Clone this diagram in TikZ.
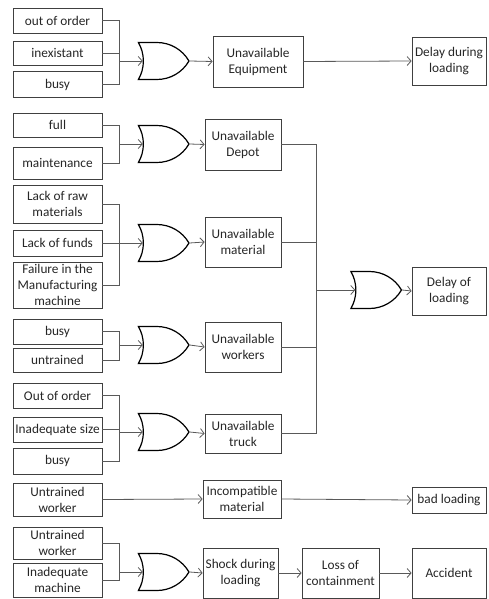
\documentclass[tikz,border=0pt]{standalone}
\usepackage{fontspec}
\setmainfont{Carlito}
\usetikzlibrary{arrows.meta,shapes.gates.logic.US}

\tikzset{
  box/.style={draw=black!75, line width=0.8pt, align=center, inner sep=0pt,
    text=black!85, font=\fontsize{13.3}{16}\selectfont},
  gate/.style={or gate US, draw=black, line width=1.2pt, logic gate inputs=nn,
    minimum width=46pt, minimum height=37pt, inner sep=0pt},
  wire/.style={draw=black!65, line width=0.8pt},
  arr/.style={wire, -{Straight Barb[length=4pt,width=9pt]}},
}

\begin{document}
\begin{tikzpicture}[x=1pt,y=-1pt]

\useasboundingbox (0,0) rectangle (488,599);

% causes
\node[box, minimum width=89pt, minimum height=25pt] (ooa) at (57.5,20.5) {out of order};
\node[box, minimum width=89pt, minimum height=24pt] (inex) at (57.5,53) {inexistant};
\node[box, minimum width=89pt, minimum height=26pt] (busya) at (57.5,84.5) {busy};

\node[box, minimum width=89pt, minimum height=24pt] (full) at (57.5,125) {full};
\node[box, minimum width=89pt, minimum height=32pt] (maint) at (57.5,163) {maintenance};

\node[box, minimum width=89pt, minimum height=38pt] (raw) at (57.5,204) {Lack of raw\\materials};
\node[box, minimum width=89pt, minimum height=26pt] (funds) at (57.5,243) {Lack of funds};
\node[box, minimum width=89pt, minimum height=46pt] (fail) at (57.5,285) {Failure in the\\Manufacturing\\machine};

\node[box, minimum width=89pt, minimum height=25pt] (busyb) at (57.5,331.5) {busy};
\node[box, minimum width=89pt, minimum height=24pt] (untr) at (57.5,360) {untrained};

\node[box, minimum width=89pt, minimum height=25pt] (oob) at (57.5,395.5) {Out of order};
\node[box, minimum width=89pt, minimum height=25pt] (size) at (57.5,429.5) {Inadequate size};
\node[box, minimum width=89pt, minimum height=26pt] (busyc) at (57.5,461) {busy};

\node[box, minimum width=89pt, minimum height=33pt] (uwa) at (57.5,499.5) {Untrained\\worker};
\node[box, minimum width=89pt, minimum height=32pt] (uwb) at (57.5,543) {Untrained\\worker};
\node[box, minimum width=89pt, minimum height=34pt] (mach) at (57.5,580) {Inadequate\\machine};

% gates
\node[gate] (ga) at (160,61) {};
\node[gate] (gb) at (160,144) {};
\node[gate] (gc) at (160,243) {};
\node[gate] (gd) at (160,345) {};
\node[gate] (ge) at (160,432) {};
\node[gate] (gf) at (160,572) {};
\node[gate] (gbig) at (372.5,290) {};

% events
\node[box, minimum width=90pt, minimum height=51pt] (equip) at (258,61.5) {Unavailable\\Equipment};
\node[box, minimum width=76pt, minimum height=51pt] (depot) at (243,144.5) {Unavailable\\Depot};
\node[box, minimum width=76pt, minimum height=50pt] (mat) at (243,242) {Unavailable\\material};
\node[box, minimum width=76pt, minimum height=50pt] (work) at (243,347) {Unavailable\\workers};
\node[box, minimum width=76pt, minimum height=39pt] (truck) at (243,433.5) {Unavailable\\truck};
\node[box, minimum width=78pt, minimum height=38pt] (incomp) at (242,499) {Incompatible\\material};
\node[box, minimum width=75pt, minimum height=50pt] (shock) at (240.5,573) {Shock during\\loading};
\node[box, minimum width=77pt, minimum height=50pt] (loss) at (340.5,573) {Loss of\\containment};
\node[box, minimum width=74pt, minimum height=50pt] (acc) at (449,573) {Accident};

\node[box, minimum width=74pt, minimum height=48pt] (dla) at (449,61) {Delay during\\loading};
\node[box, minimum width=74pt, minimum height=48pt] (dlb) at (449,291) {Delay of\\loading};
\node[box, minimum width=74pt, minimum height=26pt] (bad) at (449,500) {bad loading};

% joints
\coordinate (ja) at (119,61);
\coordinate (jb) at (119,144);
\coordinate (jc) at (119,243);
\coordinate (jd) at (119,345);
\coordinate (je) at (119,432);
\coordinate (jf) at (119,572);
\coordinate (jbus) at (316,290);

% wires
\draw[wire] (ooa.east) -| (ja);
\draw[wire] (busya.east) -| (ja);
\draw[wire] (inex.east) -- (inex.east -| ja);
\draw[arr] (ja) -- (ga.west);

\draw[wire] (full.east) -| (jb);
\draw[wire] (maint.east) -| (jb);
\draw[arr] (jb) -- (gb.west);

\draw[wire] (raw.east) -| (jc);
\draw[wire] (fail.east) -| (jc);
\draw[arr] (funds.east) -- (gc.west);

\draw[wire] (busyb.east) -| (jd);
\draw[wire] (untr.east) -| (jd);
\draw[arr] (jd) -- (gd.west);

\draw[wire] (oob.east) -| (je);
\draw[wire] (busyc.east) -| (je);
\draw[wire] (size.east) -- (size.east -| je);
\draw[arr] (je) -- (ge.west);

\draw[wire] (uwb.east) -| (jf);
\draw[wire] (mach.east) -| (jf);
\draw[arr] (jf) -- (gf.west);

\draw[arr] (ga.east) -- (equip.west);
\draw[arr] (gb.east) -- (depot.west);
\draw[arr] (gc.east) -- (mat.west);
\draw[arr] (gd.east) -- (work.west);
\draw[arr] (ge.east) -- (truck.west);
\draw[arr] (gf.east) -- (shock.west);

\draw[arr] (equip.east) -- (dla.west);

\draw[wire] (depot.east) -| (jbus);
\draw[wire] (truck.east) -| (jbus);
\draw[wire] (mat.east) -- (mat.east -| jbus);
\draw[wire] (work.east) -- (work.east -| jbus);
\draw[arr] (jbus) -- (gbig.west);
\draw[arr] (gbig.east) -- (dlb.west);

\draw[arr] (uwa.east) -- (incomp.west);
\draw[arr] (incomp.east) -- (bad.west);

\draw[arr] (shock.east) -- (loss.west);
\draw[arr] (loss.east) -- (acc.west);

\end{tikzpicture}
\end{document}
